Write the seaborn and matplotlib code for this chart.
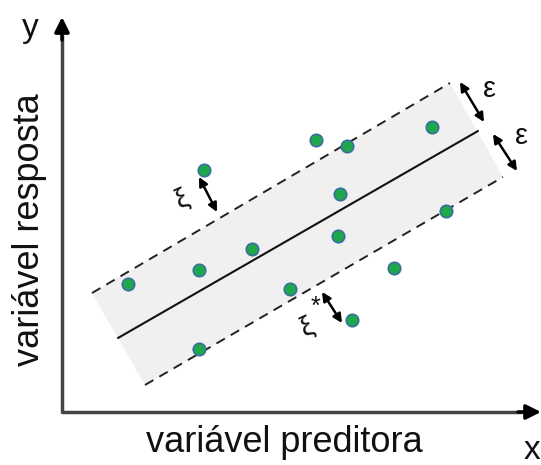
import matplotlib
matplotlib.use("Agg")
import matplotlib.pyplot as plt
import seaborn as sns
import pandas as pd

sns.set_style("white")
plt.rcParams['font.family'] = ['Liberation Sans', 'DejaVu Sans']

# observed points (pixel-like data coordinates, y grows downward)
pt_x = [128, 199, 252, 204, 316, 347, 340, 338, 290, 199, 394, 432, 446, 352]
pt_y = [284, 270, 249, 170, 140, 146, 194, 236, 289, 349, 268, 127, 211, 320]

# regression line and tolerance band
line_x = [118, 478]
line_y = [338, 131]
band_x = [92, 450, 503, 145]
band_y = [293, 83, 177, 385]

xlabel = "variável preditora"
ylabel = "variável resposta"

fig = plt.figure(figsize=(5.41, 4.65), dpi=100)
ax = fig.add_axes([0, 0, 1, 1])
ax.set_xlim(0, 541)
ax.set_ylim(465, 0)
ax.axis('off')

# band
ax.fill(band_x, band_y, color='#f0f0f0', zorder=1, lw=0)
ax.plot([band_x[0], band_x[1]], [band_y[0], band_y[1]], color='#222222', lw=1.4,
        ls=(0, (5, 3.5)), zorder=2)
ax.plot([band_x[3], band_x[2]], [band_y[3], band_y[2]], color='#222222', lw=1.4,
        ls=(0, (5, 3.5)), zorder=2)
ax.plot(line_x, line_y, color='#111111', lw=1.5, zorder=2)

df = pd.DataFrame({'x': pt_x, 'y': pt_y})
sns.scatterplot(data=df, x='x', y='y', ax=ax, s=80, color='#1fa84a',
                edgecolor='#3a6ea0', linewidth=1.2, zorder=5)
ax.set_xlabel('')
ax.set_ylabel('')
ax.axis('off')

# axes with arrows
ax.plot([62, 62], [413, 35], color='#444444', lw=2.5, zorder=3, solid_capstyle='butt')
ax.plot([61, 522], [412, 412], color='#444444', lw=2.5, zorder=3, solid_capstyle='butt')
ax.annotate('', xy=(62, 17), xytext=(62, 40),
            arrowprops=dict(arrowstyle='-|>', color='black', lw=2.5,
                            mutation_scale=22, shrinkA=0, shrinkB=0), zorder=4)
ax.annotate('', xy=(541, 412), xytext=(518, 412),
            arrowprops=dict(arrowstyle='-|>', color='black', lw=2.5,
                            mutation_scale=22, shrinkA=0, shrinkB=0), zorder=4)

# double arrows
def darrow(p0, p1):
    ax.annotate('', xy=p1, xytext=p0,
                arrowprops=dict(arrowstyle='<|-|>', color='black', lw=1.8,
                                mutation_scale=13, shrinkA=0, shrinkB=0), zorder=6)

darrow((460, 82), (484, 122))
darrow((493, 134), (517, 171))
darrow((199, 177), (217, 212))
darrow((322, 292), (342, 323))

ax.text(489, 89, 'ε', fontsize=21, ha='center', va='center', color='#111111')
ax.text(521, 136, 'ε', fontsize=21, ha='center', va='center', color='#111111')
ax.text(182, 199, 'ξ', fontsize=20, ha='center', va='center', rotation=25, color='#111111')
ax.text(307, 327, 'ξ', fontsize=20, ha='center', va='center', rotation=25, color='#111111')
ax.text(315, 307, '*', fontsize=18, ha='center', va='center', color='#111111')

ax.text(30, 28, 'y', fontsize=24, ha='center', va='center', color='#111111')
ax.text(524, 450, 'x', fontsize=24, ha='left', va='center', color='#111111')
ax.text(284, 442, xlabel, fontsize=26, ha='center', va='center', color='#111111')
ax.text(30, 230, ylabel, fontsize=26, ha='center', va='center', rotation=90, color='#111111')

fig.savefig('out.png', dpi=100)
